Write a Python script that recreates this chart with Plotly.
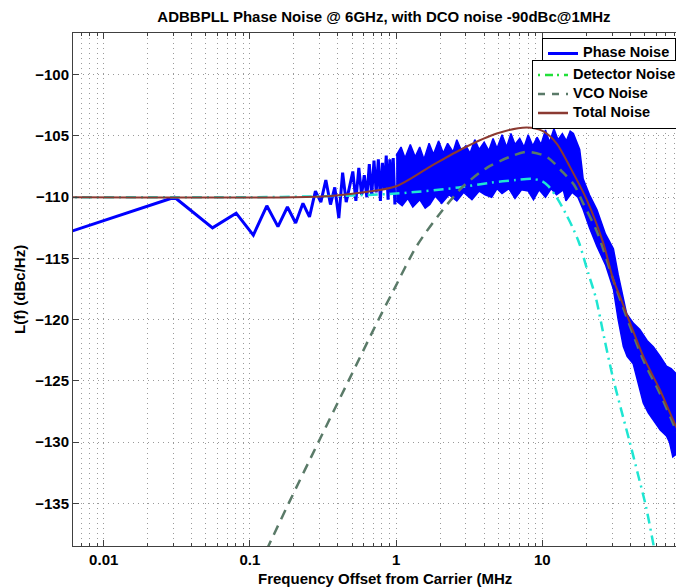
import plotly.graph_objects as go

# ---------------- data ----------------
# Phase noise: sparse low-frequency part (MHz, dBc/Hz)
pn_low_f = [0.005, 0.0305, 0.0555, 0.0805, 0.1055, 0.1305, 0.1555, 0.1805, 0.2055, 0.2305,
            0.2555, 0.2805, 0.3055, 0.3305, 0.3555, 0.3805, 0.4055, 0.4305, 0.4555, 0.4805,
            0.5055, 0.5305, 0.5555, 0.5805, 0.6055, 0.6305, 0.6555, 0.6805, 0.7055, 0.7305,
            0.7555, 0.7805, 0.8055, 0.8305, 0.8555, 0.8805, 0.9055, 0.9305, 0.9555, 0.9805]
pn_low_v = [-113.1, -110.0, -112.5, -111.3, -113.1, -110.7, -112.4, -110.8, -112.1, -110.5,
            -111.6, -109.5, -110.4, -108.6, -110.6, -109.2, -111.7, -108.0, -110.4, -109.0,
            -107.9, -110.3, -107.6, -109.8, -108.2, -110.0, -107.3, -109.9, -107.0, -109.6,
            -106.9, -110.3, -107.2, -109.4, -106.6, -110.2, -106.9, -109.8, -106.8, -110.6]

# Phase noise: dense band, upper edge (ascending frequency)
band_up_f = [1.0, 1.08, 1.15, 1.25, 1.35, 1.45, 1.55, 1.68, 1.8, 1.95, 2.1, 2.25, 2.45, 2.6,
             2.8, 3.0, 3.2, 3.45, 3.7, 4.0, 4.3, 4.6, 4.9, 5.3, 5.7, 6.1, 6.5, 7.0, 7.5, 8.0,
             8.6, 9.2, 9.8, 10.5, 11.2, 12.0, 12.8, 13.7, 14.6, 15.5, 16.3, 17.2, 18.0, 18.6,
             19.0, 21.0, 23.6, 27.0, 30.6, 33.0, 37.7, 42.0, 46.4, 52.0, 57.4, 64.0, 70.6,
             76.0, 82.0, 90.0]
band_up_v = [-106.6, -105.9, -106.8, -105.7, -106.7, -105.9, -106.9, -105.6, -106.5, -105.4,
             -106.4, -105.6, -106.3, -105.3, -106.2, -105.8, -106.4, -105.3, -106.1, -105.5,
             -106.2, -105.2, -106.0, -104.9, -105.9, -104.8, -105.7, -105.2, -105.9, -104.9,
             -105.8, -105.1, -105.7, -104.5, -105.5, -104.4, -105.3, -104.8, -105.4, -104.6,
             -104.8, -105.6, -106.1, -107.5, -108.5, -109.8, -111.0, -113.0, -114.2, -116.3,
             -119.5, -120.3, -120.8, -121.7, -122.2, -123.0, -123.8, -124.0, -124.4, -125.0]

# Phase noise: dense band, lower edge (descending frequency)
band_lo_f = [90.0, 82.0, 78.0, 74.0, 70.6, 64.0, 57.4, 53.0, 49.0, 45.0, 41.8, 38.0, 35.8,
             33.0, 30.6, 27.0, 23.6, 21.0, 19.0, 17.5, 16.0, 14.5, 13.9, 12.5, 11.5, 10.5,
             9.5, 8.7, 8.0, 7.2, 6.5, 5.9, 5.3, 4.9, 4.5, 4.06, 3.7, 3.3, 2.9, 2.6, 2.3,
             2.05, 1.85, 1.7, 1.58, 1.45, 1.3, 1.2, 1.1, 1.0]
band_lo_v = [-131.8, -131.0, -131.2, -130.0, -129.5, -129.0, -128.2, -127.6, -126.8, -125.0,
             -123.6, -123.0, -122.2, -120.0, -117.5, -115.5, -114.0, -112.5, -111.0, -110.0,
             -109.6, -110.3, -109.4, -109.8, -109.3, -110.0, -109.4, -110.2, -109.5, -109.4,
             -110.1, -109.3, -109.7, -109.3, -110.0, -109.8, -109.5, -110.2, -109.6, -110.3,
             -109.8, -110.5, -109.9, -110.6, -110.9, -110.2, -110.8, -110.1, -110.7, -110.3]

# Detector noise
det_f = [0.005, 0.1, 0.365, 1.0, 2.69, 4.5, 6.56, 8.5, 10.0, 11.0, 12.5, 14.4, 16.0, 17.8,
         20.6, 23.2, 26.5, 30.2, 34.5, 39.2, 45.0, 51.0, 58.0, 62.0]
det_v = [-110.0, -110.0, -109.9, -109.7, -109.2, -108.8, -108.6, -108.5, -108.7, -109.1,
         -110.0, -111.3, -112.4, -113.7, -116.2, -118.2, -121.5, -124.6, -127.3, -129.8,
         -132.6, -135.2, -138.6, -140.5]

# VCO noise
vco_f = [0.13, 0.145, 0.184, 0.294, 0.472, 0.757, 0.96, 1.38, 2.0, 2.88, 4.17, 6.0, 7.8,
         10.7, 13.9, 16.5, 19.0, 23.6, 32.3, 49.0, 63.5, 82.0, 90.0]
vco_v = [-138.8, -137.6, -135.0, -130.0, -125.0, -120.0, -117.6, -114.0, -111.3, -109.1,
         -107.6, -106.7, -106.3, -106.7, -108.0, -109.0, -110.5, -112.8, -117.6, -123.3,
         -126.0, -129.0, -130.0]

# Total noise
tot_f = [0.005, 0.2, 0.36, 0.6, 1.0, 1.71, 2.88, 4.88, 7.8, 10.1, 12.5, 15.4, 20.1, 26.1,
         30.5, 33.9, 49.0, 63.5, 82.0, 90.0]
tot_v = [-110.0, -110.0, -109.9, -109.6, -109.1, -107.5, -106.0, -104.8, -104.3, -104.6,
         -105.6, -107.5, -110.2, -113.75, -116.7, -118.1, -123.0, -125.7, -128.7, -129.5]

x_major = [0.01, 0.1, 1, 10]
x_major_text = ["0.01", "0.1", "1", "10"]
x_minor = [m * d for d in (0.001, 0.01, 0.1, 1, 10) for m in range(2, 10)]
y_ticks = [-135, -130, -125, -120, -115, -110, -105, -100]

title_text = "ADBBPLL Phase Noise @ 6GHz, with DCO noise -90dBc@1MHz"
x_title = "Frequency Offset from Carrier (MHz"
y_title = "L(f) (dBc/Hz)"

# ---------------- figure ----------------
BLUE = "#0000ff"
CYAN = "#1ee6d2"
GREEN = "#22e03a"
GRAY = "#5a7a68"
BROWN = "#8b3a32"
FONT = "Liberation Sans, Arial, sans-serif"


def leg(name):
    # legend label rendered at 14.5px inside a compact legend row
    return "<span style='font-size:14.5px'>" + name + "</span>"


fig = go.Figure()

fig.add_trace(go.Scatter(
    x=band_up_f + band_lo_f, y=band_up_v + band_lo_v, mode="lines",
    fill="toself", fillcolor=BLUE, line=dict(color=BLUE, width=1.5),
    showlegend=False, hoverinfo="skip"))
fig.add_trace(go.Scatter(
    x=pn_low_f, y=pn_low_v, mode="lines", name=leg("Phase Noise"),
    line=dict(color=BLUE, width=3), legend="legend"))

fig.add_trace(go.Scatter(
    x=det_f, y=det_v, mode="lines", name="Detector Noise", line_shape="spline",
    line=dict(color=CYAN, width=2.5, dash="10px,5px,2px,5px", smoothing=0.8),
    showlegend=False))
fig.add_trace(go.Scatter(
    x=vco_f, y=vco_v, mode="lines", name="VCO Noise", line_shape="spline",
    line=dict(color=GRAY, width=2.5, dash="10px,7px", smoothing=0.8), showlegend=False))
fig.add_trace(go.Scatter(
    x=tot_f, y=tot_v, mode="lines", name="Total Noise", line_shape="spline",
    line=dict(color=BROWN, width=2, smoothing=0.8), showlegend=False))

# legend-only entries for the second legend box
fig.add_trace(go.Scatter(x=[None], y=[None], mode="lines", name=leg("Detector Noise"),
                         line=dict(color=GREEN, width=2.5, dash="2px,5px,8px,4px"),
                         legend="legend2"))
fig.add_trace(go.Scatter(x=[None], y=[None], mode="lines", name=leg("VCO Noise"),
                         line=dict(color=GRAY, width=2.5, dash="7px,7px"),
                         legend="legend2"))
fig.add_trace(go.Scatter(x=[None], y=[None], mode="lines", name=leg("Total Noise"),
                         line=dict(color=BROWN, width=2.5), legend="legend2"))

grid = dict(showgrid=True, gridcolor="#9a9a9a", gridwidth=1, griddash="1px,4px")
axfont = dict(family=FONT, size=15, color="black", weight="bold")

fig.update_xaxes(
    type="log", range=[-2.21, 1.914],
    tickvals=x_major, ticktext=x_major_text,
    ticks="inside", ticklen=6, tickcolor="#404040",
    showline=True, linecolor="#404040", linewidth=1, mirror="ticks",
    tickfont=axfont, zeroline=False,
    minor=dict(tickvals=x_minor, ticks="inside", ticklen=3, tickcolor="#404040",
               showgrid=True, gridcolor="#9a9a9a", gridwidth=1, griddash="1px,4px"),
    **grid)
fig.update_yaxes(
    range=[-138.48, -96.59], tickvals=y_ticks,
    ticks="inside", ticklen=6, tickcolor="#404040",
    showline=True, linecolor="#404040", linewidth=1, mirror=False,
    tickfont=axfont, zeroline=False, **grid)

legfont = dict(family=FONT, size=10, color="black", weight="bold")
fig.update_layout(
    width=676, height=588,
    margin=dict(l=73, r=0, t=33, b=42, autoexpand=False),
    paper_bgcolor="white", plot_bgcolor="white",
    title=dict(text=title_text, x=0.568, xref="container", xanchor="center",
               y=1 - 17 / 588, yref="container", yanchor="middle",
               font=dict(family=FONT, size=15, color="black", weight="bold")),
    legend=dict(x=542 / 676, xref="container", xanchor="left",
                y=1 - 38 / 588, yref="container", yanchor="top",
                bgcolor="white", bordercolor="black", borderwidth=1,
                font=legfont, itemwidth=30, tracegroupgap=0),
    legend2=dict(x=532 / 676, xref="container", xanchor="left",
                 y=1 - 59.5 / 588, yref="container", yanchor="top",
                 bgcolor="white", bordercolor="black", borderwidth=1,
                 font=legfont, itemwidth=30, tracegroupgap=0),
    annotations=[
        dict(text=x_title, xref="paper", yref="paper", x=(385 - 73) / 603,
             y=1 - (578 - 33) / 513, xanchor="center", yanchor="middle",
             showarrow=False, font=dict(family=FONT, size=15, color="black", weight="bold")),
        dict(text=y_title, xref="paper", yref="paper", x=(19 - 73) / 603,
             y=1 - (290 - 33) / 513, xanchor="center", yanchor="middle", textangle=-90,
             showarrow=False, font=dict(family=FONT, size=15, color="black", weight="bold")),
    ],
    showlegend=True,
)

fig.write_html("out.html")
